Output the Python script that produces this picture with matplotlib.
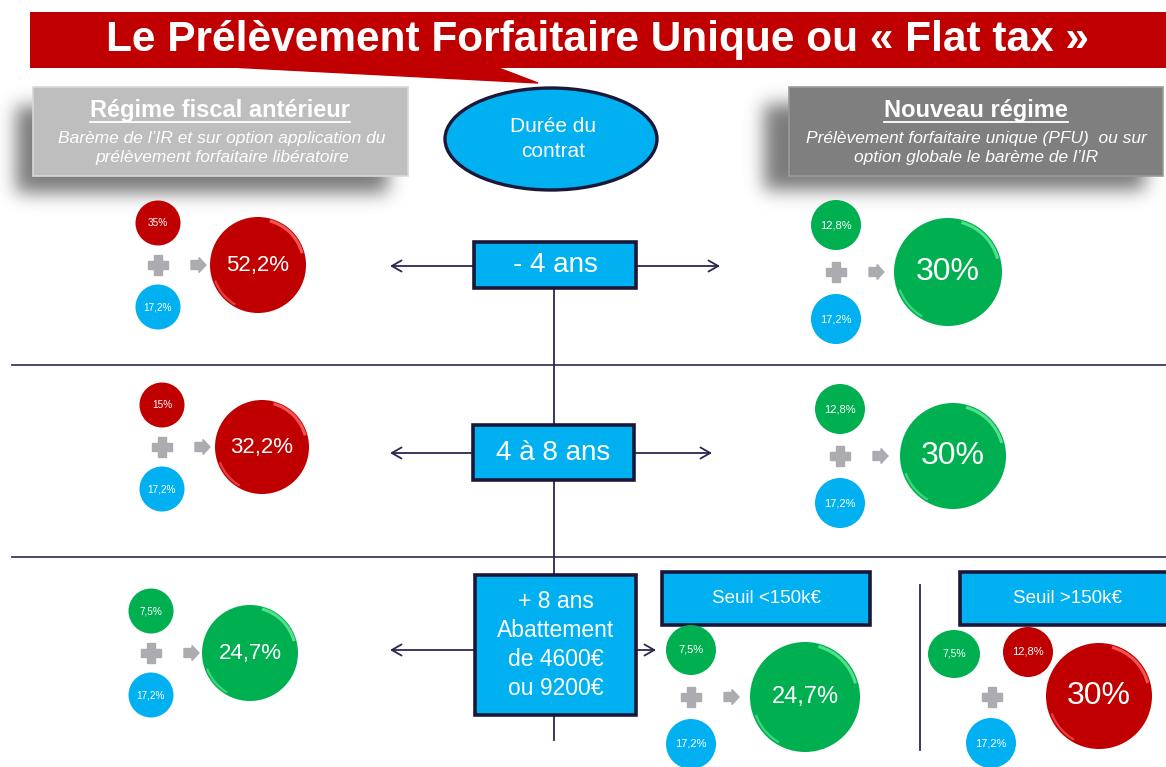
import matplotlib
matplotlib.use("Agg")
import matplotlib.pyplot as plt
import numpy as np
from matplotlib.patches import Rectangle, Circle, Ellipse, Polygon, Arc

plt.rcParams["font.family"] = ["Liberation Sans", "DejaVu Sans"]

# ── data ──────────────────────────────────────────────────────────────────────
TITLE = "Le Prélèvement Forfaitaire Unique ou « Flat tax »"
OLD_HEAD = "Régime fiscal antérieur"
OLD_SUB = "Barème de l’IR et sur option application du\nprélèvement forfaitaire libératoire"
NEW_HEAD = "Nouveau régime"
NEW_SUB = "Prélèvement forfaitaire unique (PFU)  ou sur\noption globale le barème de l’IR"
CENTER_LABEL = "Durée du\ncontrat"

DUREES = ["- 4 ans", "4 à 8 ans", "+ 8 ans\nAbattement\nde 4600€\nou 9200€"]
SEUILS = ["Seuil <150k€", "Seuil >150k€"]

OLD_IR = ["35%", "15%", "7,5%"]
OLD_PS = ["17,2%", "17,2%", "17,2%"]
OLD_TOTAL = ["52,2%", "32,2%", "24,7%"]
OLD_COLOR = ["red", "red", "green"]

NEW_IR = ["12,8%", "12,8%", "7,5%"]
NEW_PS = ["17,2%", "17,2%", "17,2%"]
NEW_TOTAL = ["30%", "30%", "24,7%"]
NEW_COLOR = ["green", "green", "green"]

# over 150k€: two IR parts
BIG_IR = ["7,5%", "12,8%"]
BIG_PS = "17,2%"
BIG_TOTAL = "30%"

# ── style ─────────────────────────────────────────────────────────────────────
RED = "#C00000"
GREEN = "#00B050"
BLUE = "#00B0F0"
NAVY = "#2B2850"
GREY_PLUS = "#ABABB0"
COLORS = {"red": RED, "green": GREEN}
RIMS = {"red": "#FF6A6A", "green": "#66EE99"}

W, H = 1166, 767
fig = plt.figure(figsize=(W / 100, H / 100), dpi=100)
ax = fig.add_axes([0, 0, 1, 1])


def soft_shadows(rects, sigma=9, alpha=0.8):
    a = np.zeros((H, W))
    for x0, y0, x1, y1 in rects:
        a[y0:y1, x0:x1] = 1.0
    k = np.exp(-0.5 * (np.arange(-3 * sigma, 3 * sigma + 1) / sigma) ** 2)
    k /= k.sum()
    a = np.apply_along_axis(lambda r: np.convolve(r, k, mode="same"), 1, a)
    a = np.apply_along_axis(lambda c: np.convolve(c, k, mode="same"), 0, a)
    rgba = np.zeros((H, W, 4))
    rgba[..., :3] = 0.35
    rgba[..., 3] = a * alpha
    ax.imshow(rgba, extent=[0, W, H, 0], zorder=1, interpolation="bilinear")


def underlined(x, y, s, **kw):
    t = ax.text(x, y, s, **kw)
    fig.canvas.draw()
    bb = t.get_window_extent().transformed(ax.transData.inverted())
    yb = max(bb.y0, bb.y1) - 1
    ax.plot([bb.x0, bb.x1], [yb, yb], color="white", lw=1.3, zorder=kw.get("zorder", 5))
    return t


def plus(x, y, s=10, t=3.6):
    ax.add_patch(Rectangle((x - s, y - t), 2 * s, 2 * t, color=GREY_PLUS, zorder=4))
    ax.add_patch(Rectangle((x - t, y - s), 2 * t, 2 * s, color=GREY_PLUS, zorder=4))


def block_arrow(x, y):
    pts = [(x - 7, y - 4.5), (x + 1, y - 4.5), (x + 1, y - 7.5), (x + 8, y),
           (x + 1, y + 7.5), (x + 1, y + 4.5), (x - 7, y + 4.5)]
    ax.add_patch(Polygon(pts, closed=True, color=GREY_PLUS, zorder=4))


def disc(x, y, r, color, label, fs, big=False, rx=None):
    c = COLORS.get(color, color)
    if rx is None:
        ax.add_patch(Circle((x, y), r, facecolor=c, edgecolor="none", zorder=4))
    else:
        ax.add_patch(Ellipse((x, y), 2 * rx, 2 * r, facecolor=c, edgecolor="none", zorder=4))
    if big:
        rim = RIMS[color]
        ax.add_patch(Arc((x, y), 2 * r * 0.95, 2 * r * 0.95, theta1=285, theta2=345,
                         color=rim, lw=2.2, alpha=0.8, zorder=5))
        ax.add_patch(Arc((x, y), 2 * r * 0.95, 2 * r * 0.95, theta1=120, theta2=160,
                         color=rim, lw=1.6, alpha=0.6, zorder=5))
    ax.text(x, y, label, color="white", fontsize=fs, ha="center", va="center", zorder=6)


def combo(xs, y, dy, rs, xb, rb, top, top_color, bot, total, total_color, fs_s, fs_b):
    disc(xs, y - dy, rs, top_color, top, fs_s)
    plus(xs, y)
    block_arrow(xs + 40, y)
    disc(xs, y + dy, rs, BLUE, bot, fs_s)
    disc(xb, y, rb, total_color, total, fs_b, big=True)


def box(x0, y0, w, h, label, fs, lw=2.6, ls=1.2):
    ax.add_patch(Rectangle((x0, y0), w, h, facecolor=BLUE, edgecolor="#1A1838",
                           lw=lw, zorder=4))
    ax.text(x0 + w / 2, y0 + h / 2, label, color="white", fontsize=fs, ha="center",
            va="center", linespacing=ls, zorder=6)


def arrow(x0, x1, y):
    ax.annotate("", xy=(x1, y), xytext=(x0, y),
                arrowprops=dict(arrowstyle="->,head_length=0.7,head_width=0.4",
                                color=NAVY, lw=1.3, shrinkA=0, shrinkB=0), zorder=3)


# ── header shadows ────────────────────────────────────────────────────────────
soft_shadows([(16, 106, 388, 193), (764, 104, 1145, 190)])
ax.set_xlim(0, W)
ax.set_ylim(H, 0)
ax.set_aspect("auto")
ax.axis("off")

# ── title banner ──────────────────────────────────────────────────────────────
ax.add_patch(Rectangle((30, 12), W - 30, 56, facecolor=RED, edgecolor="none", zorder=3))
ax.add_patch(Polygon([(230, 67), (496, 67), (538, 83)], closed=True, color=RED, zorder=3))
ax.text(597, 40, TITLE, color="white", fontsize=30.5, fontweight="bold",
        ha="center", va="center", zorder=5)

# ── headers ───────────────────────────────────────────────────────────────────
ax.add_patch(Rectangle((33, 87), 375, 89, facecolor="#BEBEBE", edgecolor="#D8D8D8",
                       lw=1.2, zorder=3))
ax.add_patch(Rectangle((789, 87), 374, 89, facecolor="#7F7F7F", edgecolor="#9A9A9A",
                       lw=1.2, zorder=3))
underlined(220, 111, OLD_HEAD, color="white", fontsize=17, fontweight="bold",
           ha="center", va="center", zorder=5)
ax.text(222, 148, OLD_SUB, color="white", fontsize=12.5, style="italic", ha="center",
        va="center", linespacing=1.3, zorder=5)
underlined(976, 111, NEW_HEAD, color="white", fontsize=17, fontweight="bold",
           ha="center", va="center", zorder=5)
ax.text(976, 148, NEW_SUB, color="white", fontsize=12.5, style="italic", ha="center",
        va="center", linespacing=1.3, zorder=5)

ax.add_patch(Ellipse((551, 139), 212, 102, facecolor=BLUE, edgecolor="#1A1838",
                     lw=2.4, zorder=4))
ax.text(553, 139, CENTER_LABEL, color="white", fontsize=15, ha="center", va="center",
        linespacing=1.45, zorder=5)

# ── structure lines ───────────────────────────────────────────────────────────
for yl in (365, 557):
    ax.plot([12, W], [yl, yl], color=NAVY, lw=1.2, zorder=2)
ax.plot([554, 554], [288, 740], color=NAVY, lw=1.3, zorder=2)
ax.plot([920, 920], [585, 750], color=NAVY, lw=1.3, zorder=2)

# ── duration boxes ────────────────────────────────────────────────────────────
box(474, 242, 162, 46, DUREES[0], 20)
box(473, 425, 161, 55, DUREES[1], 20)
box(475, 575, 161, 140, DUREES[2], 16.5, ls=1.34)
arrow(474, 390, 266)
arrow(636, 720, 266)
arrow(473, 390, 453)
arrow(634, 712, 453)
arrow(475, 390, 650)
arrow(636, 656, 650)

box(662, 572, 208, 53, SEUILS[0], 13.5)
box(960, 572, 215, 53, SEUILS[1], 13.5)

# ── old regime ────────────────────────────────────────────────────────────────
old_y = [265, 447, 653]
old_xs = [158, 162, 151]
old_xb = [258, 262, 250]
old_rb = [48, 47, 48]
for i in range(3):
    combo(old_xs[i], old_y[i], 42, 22.5, old_xb[i], old_rb[i], OLD_IR[i], OLD_COLOR[i],
          OLD_PS[i], OLD_TOTAL[i], OLD_COLOR[i], 7.2, 16)

# ── new regime ────────────────────────────────────────────────────────────────
new_y = [272, 456, 697]
new_xs = [836, 840, 691]
new_xb = [948, 953, 805]
new_rb = [54, 53, 55]
new_fs = [23, 23, 17]
for i in range(3):
    combo(new_xs[i], new_y[i], 47, 25, new_xb[i], new_rb[i], NEW_IR[i], NEW_COLOR[i],
          NEW_PS[i], NEW_TOTAL[i], NEW_COLOR[i], 8, new_fs[i])

# over 150k€
disc(954, 654, 24, "green", BIG_IR[0], 7.5, rx=26)
disc(1028, 652, 25, "red", BIG_IR[1], 8)
plus(992, 697)
disc(991, 743, 25, BLUE, BIG_PS, 8)
disc(1099, 696, 53, "red", BIG_TOTAL, 23, big=True)

fig.savefig("out.png", dpi=100)
